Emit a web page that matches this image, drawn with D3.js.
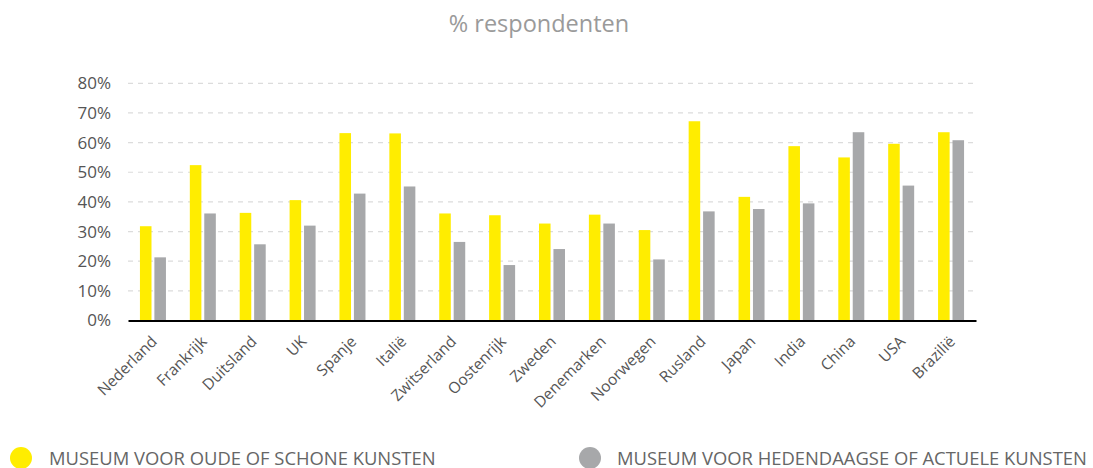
<!DOCTYPE html>
<html><head><meta charset="utf-8">
<script src="https://cdn.jsdelivr.net/npm/d3@7"></script>
<style>
body{margin:0;background:#fff;}
svg{display:block;font-family:"Open Sans","Noto Sans",sans-serif;}
</style></head>
<body><svg id="chart" width="1093" height="468"></svg>
<script>
const categories = ["Nederland","Frankrijk","Duitsland","UK","Spanje","Italië","Zwitserland","Oostenrijk","Zweden","Denemarken","Noorwegen","Rusland","Japan","India","China","USA","Brazilië"];
const oudeKunst = [31.8,52.4,36.3,40.6,63.2,63.1,36.1,35.5,32.7,35.7,30.5,67.2,41.7,58.8,55.0,59.6,63.5];
const hedendaagseKunst = [21.3,36.1,25.7,32.0,42.8,45.2,26.5,18.7,24.1,32.7,20.6,36.8,37.6,39.5,63.5,45.5,60.8];
const seriesNames = ["MUSEUM VOOR OUDE OF SCHONE KUNSTEN","MUSEUM VOOR HEDENDAAGSE OF ACTUELE KUNSTEN"];
const yTicks = [0,10,20,30,40,50,60,70,80];
const title = "% respondenten";

const colors = ["#FFED00","#A7A8AA"];
const svg = d3.select("#chart");
const mLeft = 128, mRight = 976, mTop = 83.3, mBottom = 320.5;

const x = d3.scaleBand().domain(categories).range([mLeft,mRight]).padding(0);
const x1 = d3.scaleBand().domain([0,1]).range([-13,13]).paddingInner(0.2);
const y = d3.scaleLinear().domain([0,80]).range([mBottom,mTop]);

svg.append("text").attr("x",539).attr("y",32).attr("text-anchor","middle")
  .attr("font-size",23.5).attr("fill","#9a9a9a").text(title);

// grid
svg.append("g").selectAll("line").data(yTicks.filter(d=>d>0)).join("line")
  .attr("x1",mLeft).attr("x2",mRight).attr("y1",d=>y(d)).attr("y2",d=>y(d))
  .attr("stroke","#dcdcdc").attr("stroke-width",1.2).attr("stroke-dasharray","5,5");

// y axis labels
const yAxis = d3.axisLeft(y).tickValues(yTicks).tickFormat(d=>d+"%").tickSize(0).tickPadding(17);
const yg = svg.append("g").attr("transform",`translate(${mLeft},0)`).call(yAxis);
yg.select(".domain").remove();
yg.selectAll("text").attr("font-size",17).attr("fill","#555").attr("font-family","'Open Sans',sans-serif");

// bars
const groups = svg.append("g").selectAll("g").data(categories).join("g")
  .attr("transform",d=>`translate(${x(d)+x.bandwidth()/2},0)`);
groups.selectAll("rect").data((d,i)=>[oudeKunst[i],hedendaagseKunst[i]].map((v,k)=>({v,k})))
  .join("rect")
  .attr("x",d=>x1(d.k)).attr("width",x1.bandwidth())
  .attr("y",d=>y(d.v)).attr("height",d=>y(0)-y(d.v))
  .attr("fill",d=>colors[d.k]);

// x axis
const xAxis = d3.axisBottom(x).tickSize(0).tickPadding(0);
const xg = svg.append("g").attr("transform",`translate(0,${mBottom})`).call(xAxis);
xg.select(".domain").attr("stroke","#000").attr("stroke-width",2);
xg.selectAll("text").attr("font-size",15.5).attr("fill","#555")
  .attr("text-anchor","end").attr("dy",null).attr("y",null)
  .attr("transform","translate(5,22) rotate(-45)")
  .attr("font-family","'Open Sans',sans-serif");

// legend
const leg = [{cx:21,tx:49},{cx:590,tx:617}];
leg.forEach((l,i)=>{
  svg.append("circle").attr("cx",l.cx).attr("cy",458).attr("r",11).attr("fill",colors[i]);
  svg.append("text").attr("x",l.tx).attr("y",465).attr("font-size",18.4).attr("fill","#666").text(seriesNames[i]);
});
</script></body></html>
